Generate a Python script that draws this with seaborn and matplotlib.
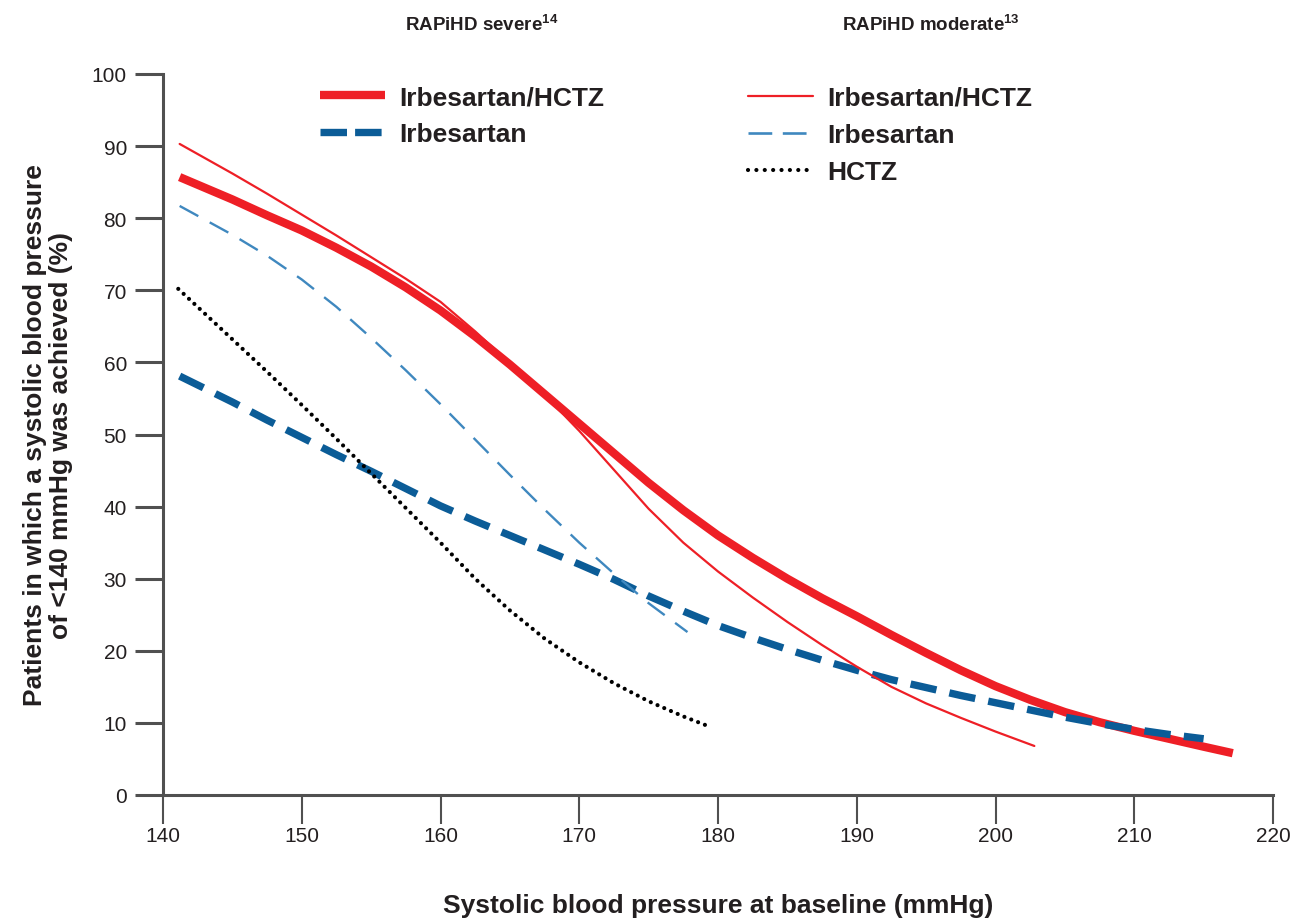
import numpy as np
import pandas as pd
import matplotlib
matplotlib.use("Agg")
import matplotlib.pyplot as plt
import seaborn as sns
from matplotlib.lines import Line2D

# ---- data ----
# RAPiHD severe: Irbesartan/HCTZ (thick red)
sev_combo_x = [141.2, 145, 147.5, 150, 152.5, 155, 157.5, 160, 162.5, 165, 167.5, 170, 172.5,
               175, 177.5, 180, 182.5, 185, 187.5, 190, 192.5, 195, 197.5, 200, 202.5, 205,
               207.5, 210, 212.5, 215, 217.1]
sev_combo_y = [85.7, 82.6, 80.4, 78.3, 75.9, 73.3, 70.4, 67.2, 63.6, 59.7, 55.6, 51.5, 47.4,
               43.3, 39.5, 36.0, 32.9, 30.0, 27.3, 24.8, 22.2, 19.7, 17.3, 15.1, 13.2, 11.5,
               10.1, 8.9, 7.8, 6.7, 5.8]

# RAPiHD severe: Irbesartan (thick blue dashed)
sev_irb_x = [141.2, 145, 147.5, 150, 152.5, 155, 157.5, 160, 162.5, 165, 167.5, 170, 172.5,
             175, 177.5, 180, 182.5, 185, 187.5, 190, 192.5, 195, 197.5, 200, 202.5, 205,
             207.5, 210, 212.5, 215]
sev_irb_y = [58.1, 54.5, 52.0, 49.6, 47.2, 44.9, 42.5, 40.1, 38.0, 36.0, 34.0, 32.0, 29.9,
             27.6, 25.5, 23.5, 21.8, 20.2, 18.7, 17.3, 16.0, 14.9, 13.8, 12.8, 11.8, 10.8,
             9.9, 9.1, 8.4, 7.8]

# RAPiHD moderate: Irbesartan/HCTZ (thin red)
mod_combo_x = [141.2, 145, 147.5, 150, 152.5, 155, 157.5, 160, 162.5, 165, 167.5, 170, 172.5,
               175, 177.5, 180, 182.5, 185, 187.5, 190, 192.5, 195, 197.5, 200, 202.8]
mod_combo_y = [90.3, 86.2, 83.4, 80.5, 77.6, 74.6, 71.6, 68.4, 64.3, 59.9, 55.5, 50.5, 45.1,
               39.7, 35.0, 31.0, 27.4, 24.0, 20.8, 17.8, 15.0, 12.7, 10.7, 8.8, 6.8]

# RAPiHD moderate: Irbesartan (thin blue dashed)
mod_irb_x = [141.2, 145, 147.5, 150, 152.5, 155, 157.5, 160, 162.5, 165, 167.5, 170, 172.5,
             175, 177.8]
mod_irb_y = [81.7, 77.7, 74.8, 71.5, 67.7, 63.4, 58.9, 54.2, 49.3, 44.4, 39.6, 35.0, 30.7,
             26.6, 22.6]

# RAPiHD moderate: HCTZ (black dotted)
mod_hctz_x = [141.1, 145, 147.5, 150, 152.5, 155, 157.5, 160, 162.5, 165, 167.5, 170, 172.5,
              175, 177.5, 179.1]
mod_hctz_y = [70.2, 63.2, 58.7, 54.1, 49.4, 44.6, 39.8, 35.0, 30.0, 25.6, 21.7, 18.4, 15.5,
              13.0, 10.9, 9.7]

x_ticks = [140, 150, 160, 170, 180, 190, 200, 210, 220]
y_ticks = [0, 10, 20, 30, 40, 50, 60, 70, 80, 90, 100]

RED = "#ee1f26"
BLUE_D = "#0b5c97"
BLUE_L = "#3f88bf"
GREY = "#505050"
TXT = "#231f20"

sns.set_theme(style="white")
plt.rcParams["font.family"] = ["Liberation Sans", "DejaVu Sans"]
plt.rcParams["mathtext.fontset"] = "custom"
plt.rcParams["mathtext.bf"] = "Liberation Sans:bold"
plt.rcParams["mathtext.rm"] = "Liberation Sans"

fig = plt.figure(figsize=(12.96, 9.2), dpi=100)
ax = fig.add_axes([163 / 1296, 124 / 920, 1110 / 1296, 721 / 920])

# ---- curves ----
sns.lineplot(x=sev_combo_x, y=sev_combo_y, ax=ax, color=RED, lw=6, sort=False,
             solid_capstyle="butt")
sns.lineplot(x=sev_irb_x, y=sev_irb_y, ax=ax, color=BLUE_D, lw=5.3, sort=False,
             linestyle=(0, (3.6, 1.8)), dash_capstyle="butt")
sns.lineplot(x=mod_combo_x, y=mod_combo_y, ax=ax, color=RED, lw=1.6, sort=False)
sns.lineplot(x=mod_irb_x, y=mod_irb_y, ax=ax, color=BLUE_L, lw=1.7, sort=False,
             linestyle=(0, (9, 5.5)), dash_capstyle="butt")
sns.lineplot(x=mod_hctz_x, y=mod_hctz_y, ax=ax, color="black", lw=3.0, sort=False,
             linestyle=(0, (0.01, 1.75)), dash_capstyle="round")

# ---- axes ----
ax.set_xlim(140, 220)
ax.set_ylim(0, 100)
ax.set_xticks(x_ticks)
ax.set_yticks(y_ticks)
sns.despine(ax=ax)
for side in ["left", "bottom"]:
    ax.spines[side].set_color(GREY)
    ax.spines[side].set_linewidth(2.2)
ax.tick_params(axis="y", direction="out", length=20, width=2.2, color=GREY, pad=6,
               labelsize=15, labelcolor=TXT, left=True)
ax.tick_params(axis="x", direction="out", length=21, width=1.5, color=GREY, pad=1,
               labelsize=15, labelcolor=TXT, bottom=True)
ax.grid(False)

ax.set_xlabel("Systolic blood pressure at baseline (mmHg)", fontsize=19,
              fontweight="bold", color=TXT)
ax.xaxis.set_label_coords(0.5, -0.136)
ax.set_ylabel("Patients in which a systolic blood pressure\nof <140 mmHg was achieved (%)",
              fontsize=19, fontweight="bold", color=TXT, linespacing=1.1)
ax.yaxis.set_label_coords(-0.081, 0.5)

# ---- column headers ----
fig.text(482 / 1296, 1 - 25 / 920, r"RAPiHD severe$^{\mathbf{14}}$", ha="center",
         va="center", fontsize=13.5, fontweight="bold", color=TXT)
fig.text(931 / 1296, 1 - 25 / 920, r"RAPiHD moderate$^{\mathbf{13}}$", ha="center",
         va="center", fontsize=13.5, fontweight="bold", color=TXT)

# ---- legends ----
leg_kw = dict(loc="upper left", frameon=False, handlelength=2.46, handletextpad=0.55,
              labelspacing=0.49, borderaxespad=0, borderpad=0,
              prop={"weight": "bold", "size": 19})
sev_handles = [Line2D([], [], color=RED, lw=6, solid_capstyle="butt"),
               Line2D([], [], color=BLUE_D, lw=5.3, linestyle=(0, (3.6, 1.1)),
                      dash_capstyle="butt")]
mod_handles = [Line2D([], [], color=RED, lw=1.6),
               Line2D([], [], color=BLUE_L, lw=1.9, linestyle=(0, (9, 4)),
                      dash_capstyle="butt"),
               Line2D([], [], color="black", lw=3.0, linestyle=(0, (0.01, 2.0)),
                      dash_capstyle="round")]
leg1 = fig.legend(sev_handles, ["Irbesartan/HCTZ", "Irbesartan"],
                  bbox_to_anchor=(320 / 1296, 1 - 86 / 920), **leg_kw)
leg2 = fig.legend(mod_handles, ["Irbesartan/HCTZ", "Irbesartan", "HCTZ"],
                  bbox_to_anchor=(748 / 1296, 1 - 87 / 920), **leg_kw)
for leg in (leg1, leg2):
    for t in leg.get_texts():
        t.set_color(TXT)

fig.savefig("out.png", dpi=100, facecolor="white")
